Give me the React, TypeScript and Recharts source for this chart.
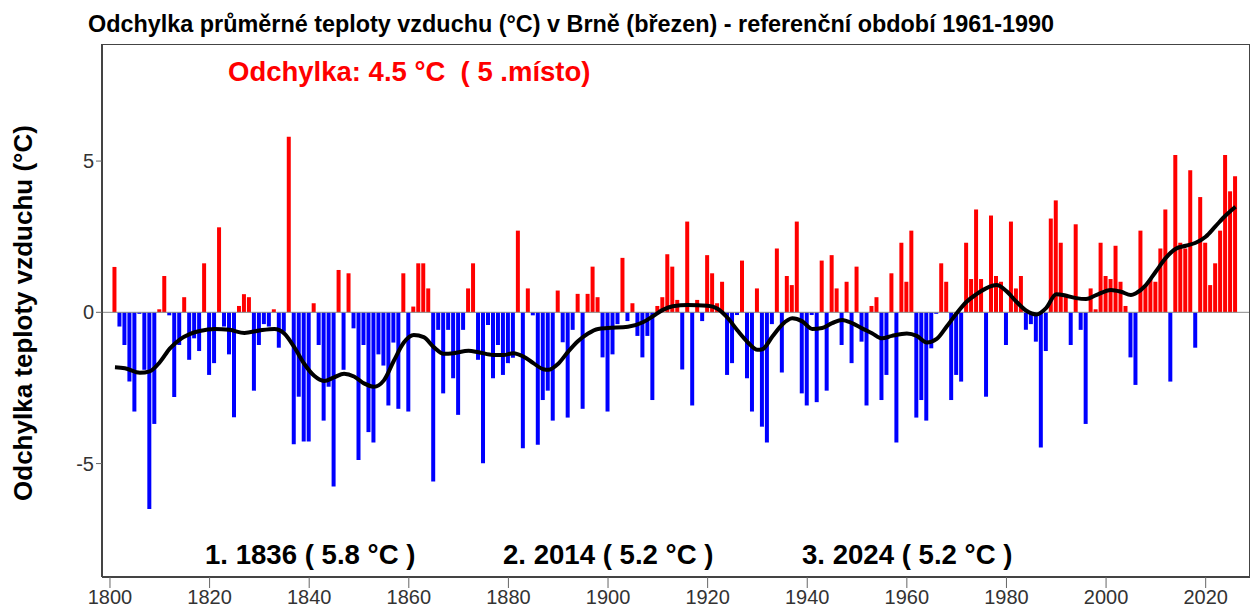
import React from "react";
import {
  Bar,
  Cell,
  ComposedChart,
  Line,
  ReferenceLine,
  XAxis,
  YAxis,
} from "recharts";

const FIRST_YEAR = 1801;

// March air temperature deviation (°C), Brno, one value per year 1801–2026
const deviation: number[] = [
  1.5, -0.47, -1.08, -2.29, -3.28, -0.05, -1.9, -6.5, -3.69, 0.1,
  1.2, -0.1, -2.8, -1.08, 0.5, -1.57, -0.86, -1.28, 1.62, -2.07,
  -1.68, 2.81, -0.47, -1.39, -3.47, 0.21, 0.6, 0.5, -2.59, -1.08,
  -0.39, -0.47, 0.1, -1.17, -0.64, 5.8, -4.36, -2.79, -4.27, -4.27,
  0.3, -1.08, -3.58, -2.46, -5.76, 1.4, -1.9, 1.29, -0.53, -4.88,
  -1.08, -3.96, -4.3, -1.39, -1.76, -3.08, -1.0, -3.19, 1.29, -3.28,
  0.19, 1.62, 1.62, 0.79, -5.59, -0.58, -2.68, -0.58, -2.18, -3.39,
  -0.58, 0.79, 1.62, -1.57, -4.99, -0.42, -2.18, -1.08, -2.07, -1.68,
  -1.5, 2.7, -4.49, 0.79, -0.1, -4.38, -2.9, -2.59, -3.58, 0.72,
  -0.99, -3.48, -0.58, 0.61, -3.19, 0.61, 1.51, 0.5, -1.49, -3.28,
  -1.39, -0.39, 1.8, -0.29, 0.3, -0.78, -1.49, -0.78, -2.9, 0.21,
  0.5, 1.92, 1.51, 0.41, -1.89, 3.0, -3.08, 0.41, -0.29, 1.89,
  1.29, 0.3, 1.01, -2.07, -1.68, -0.09, 1.71, -2.18, -3.28, 0.79,
  -3.78, -4.3, -0.39, 2.11, -1.99, 1.2, 0.9, 3.0, -2.68, -3.08,
  -0.09, -2.97, 1.71, -2.59, 1.89, 0.79, -1.08, 1.01, -1.68, 1.51,
  -0.97, -3.08, 0.21, 0.5, -2.9, -2.07, 1.29, -4.3, 2.3, 1.01,
  2.7, -3.48, -2.9, -3.58, -1.19, -0.05, 1.62, 1.01, -2.9, -2.07,
  -2.29, 2.3, 1.1, 3.4, 1.1, -2.79, 3.2, 1.2, 1.01, -1.08,
  3.0, 0.79, 1.2, -0.58, -0.39, -0.97, -4.47, -1.28, 3.1, 3.7,
  2.3, 0.61, -1.08, 2.91, -0.58, -3.69, 0.79, 0.1, 2.3, 1.2,
  1.1, 2.2, 1.01, 0.21, -1.49, -2.4, 2.7, 0.9, 1.1, 1.01,
  2.11, 3.4, -2.29, 5.2, 2.3, 2.11, 4.7, -1.17, 3.81, 2.3,
  0.9, 1.62, 2.7, 5.2, 4.0, 4.5,
];

// smoothed curve at these years
const smoothYears: number[] = [
  1801, 1803, 1806, 1808, 1810, 1812, 1814, 1816, 1818, 1821, 1824, 1827, 1830,
  1833, 1835, 1837, 1839, 1841, 1843, 1845, 1847, 1849, 1851, 1853, 1855, 1857,
  1859, 1861, 1863, 1865, 1867, 1869, 1872, 1874, 1877, 1879, 1881, 1883, 1885,
  1887, 1888, 1890, 1892, 1894, 1896, 1898, 1900, 1904, 1907, 1909, 1911, 1913,
  1916, 1920, 1922, 1924, 1926, 1928, 1930, 1931, 1933, 1935, 1937, 1939, 1941,
  1943, 1945, 1947, 1949, 1951, 1953, 1955, 1957, 1960, 1962, 1964, 1966, 1968,
  1970, 1972, 1974, 1976, 1978, 1980, 1982, 1984, 1986, 1988, 1990, 1992, 1994,
  1996, 1998, 2001, 2003, 2005, 2006, 2008, 2010, 2012, 2014, 2016, 2018, 2020,
  2022, 2024, 2026,
];
const smoothValues: number[] = [
  -1.82, -1.85, -2.0, -1.95, -1.65, -1.2, -0.9, -0.72, -0.62, -0.55, -0.58, -0.68, -0.6,
  -0.55, -0.7, -1.15, -1.7, -2.1, -2.27, -2.15, -2.03, -2.12, -2.35, -2.46, -2.25, -1.6,
  -1.0, -0.75, -0.82, -1.15, -1.37, -1.35, -1.27, -1.32, -1.41, -1.41, -1.35, -1.46, -1.68,
  -1.88, -1.9, -1.7, -1.3, -0.95, -0.7, -0.55, -0.52, -0.48, -0.33, -0.13, 0.08, 0.2,
  0.24, 0.22, 0.12, -0.18, -0.6, -0.98, -1.24, -1.22, -0.8, -0.4, -0.2, -0.3, -0.55,
  -0.52, -0.36, -0.25, -0.36, -0.53, -0.69, -0.86, -0.78, -0.7, -0.78, -1.0, -0.88, -0.47,
  -0.03, 0.35, 0.6, 0.8, 0.9, 0.7, 0.35, 0.05, -0.07, 0.15, 0.6, 0.55, 0.47,
  0.44, 0.57, 0.74, 0.68, 0.57, 0.63, 0.9, 1.35, 1.8, 2.1, 2.2, 2.3, 2.5,
  2.85, 3.2, 3.49,
];

const xTicks = [1800, 1820, 1840, 1860, 1880, 1900, 1920, 1940, 1960, 1980, 2000, 2020];
const yTicks = [-5, 0, 5];

const titleText =
  "Odchylka průměrné teploty vzduchu (°C) v Brně (březen) - referenční období 1961-1990";
const currentText = "Odchylka: 4.5 °C  ( 5 .místo)";
const rankTexts = ["1. 1836 ( 5.8 °C )", "2. 2014 ( 5.2 °C )", "3. 2024 ( 5.2 °C )"];
const rankLeft = [205, 503, 802];

const data = deviation.map((v, i) => {
  const year = FIRST_YEAR + i;
  const k = smoothYears.indexOf(year);
  return { year, value: v, smooth: k >= 0 ? smoothValues[k] : null };
});

const font = "'Liberation Sans', Arial, sans-serif";

export default function App() {
  return (
    <div
      style={{
        position: "absolute",
        left: 0,
        top: 0,
        width: 1252,
        height: 612,
        background: "#ffffff",
        fontFamily: font,
      }}
    >
      <ComposedChart
        width={1252}
        height={612}
        data={data}
        margin={{ top: 44, right: 2, bottom: 0, left: 0 }}
      >
        <XAxis
          dataKey="year"
          type="number"
          domain={[1798.4, 2028.9]}
          allowDataOverflow
          ticks={xTicks}
          height={35}
          tickSize={11}
          axisLine={{ stroke: "#444", strokeWidth: 2 }}
          tickLine={{ stroke: "#666" }}
          tick={{ fill: "#333", fontSize: 20, fontFamily: font }}
        />
        <YAxis
          type="number"
          domain={[-8.75, 8.87]}
          allowDataOverflow
          ticks={yTicks}
          width={102}
          tickSize={6}
          axisLine={{ stroke: "#444", strokeWidth: 2 }}
          tickLine={{ stroke: "#666" }}
          tick={{ fill: "#333", fontSize: 20, fontFamily: font }}
        />
        <ReferenceLine y={0} stroke="#888" strokeWidth={1} />
        <Bar dataKey="value" barSize={4} isAnimationActive={false}>
          {data.map((d) => (
            <Cell key={d.year} fill={d.value >= 0 ? "#ff0000" : "#0000ff"} />
          ))}
        </Bar>
        <Line
          dataKey="smooth"
          type="monotone"
          connectNulls
          dot={false}
          stroke="#000000"
          strokeWidth={4}
          isAnimationActive={false}
        />
      </ComposedChart>

      <div
        style={{
          position: "absolute",
          left: 102,
          top: 44,
          width: 1148,
          height: 533,
          borderTop: "1px solid #444",
          borderRight: "1px solid #444",
          boxSizing: "border-box",
          pointerEvents: "none",
        }}
      />
      <div
        style={{
          position: "absolute",
          left: 88,
          top: 10,
          fontSize: 23.4,
          lineHeight: "28px",
          fontWeight: "bold",
          color: "#000",
          whiteSpace: "nowrap",
        }}
      >
        {titleText}
      </div>
      <div
        style={{
          position: "absolute",
          left: 228,
          top: 56,
          fontSize: 27.5,
          lineHeight: "32px",
          fontWeight: "bold",
          color: "#ff0000",
          whiteSpace: "pre",
        }}
      >
        {currentText}
      </div>
      {rankTexts.map((t, i) => (
        <div
          key={t}
          style={{
            position: "absolute",
            left: rankLeft[i],
            top: 539,
            fontSize: 27.6,
            lineHeight: "32px",
            fontWeight: "bold",
            color: "#000",
            whiteSpace: "pre",
          }}
        >
          {t}
        </div>
      ))}
      <div
        style={{
          position: "absolute",
          left: 23,
          top: 313,
          transform: "translate(-50%, -50%) rotate(-90deg)",
          fontSize: 26,
          fontWeight: "bold",
          color: "#000",
          whiteSpace: "nowrap",
        }}
      >
        Odchylka teploty vzduchu (°C)
      </div>
    </div>
  );
}
